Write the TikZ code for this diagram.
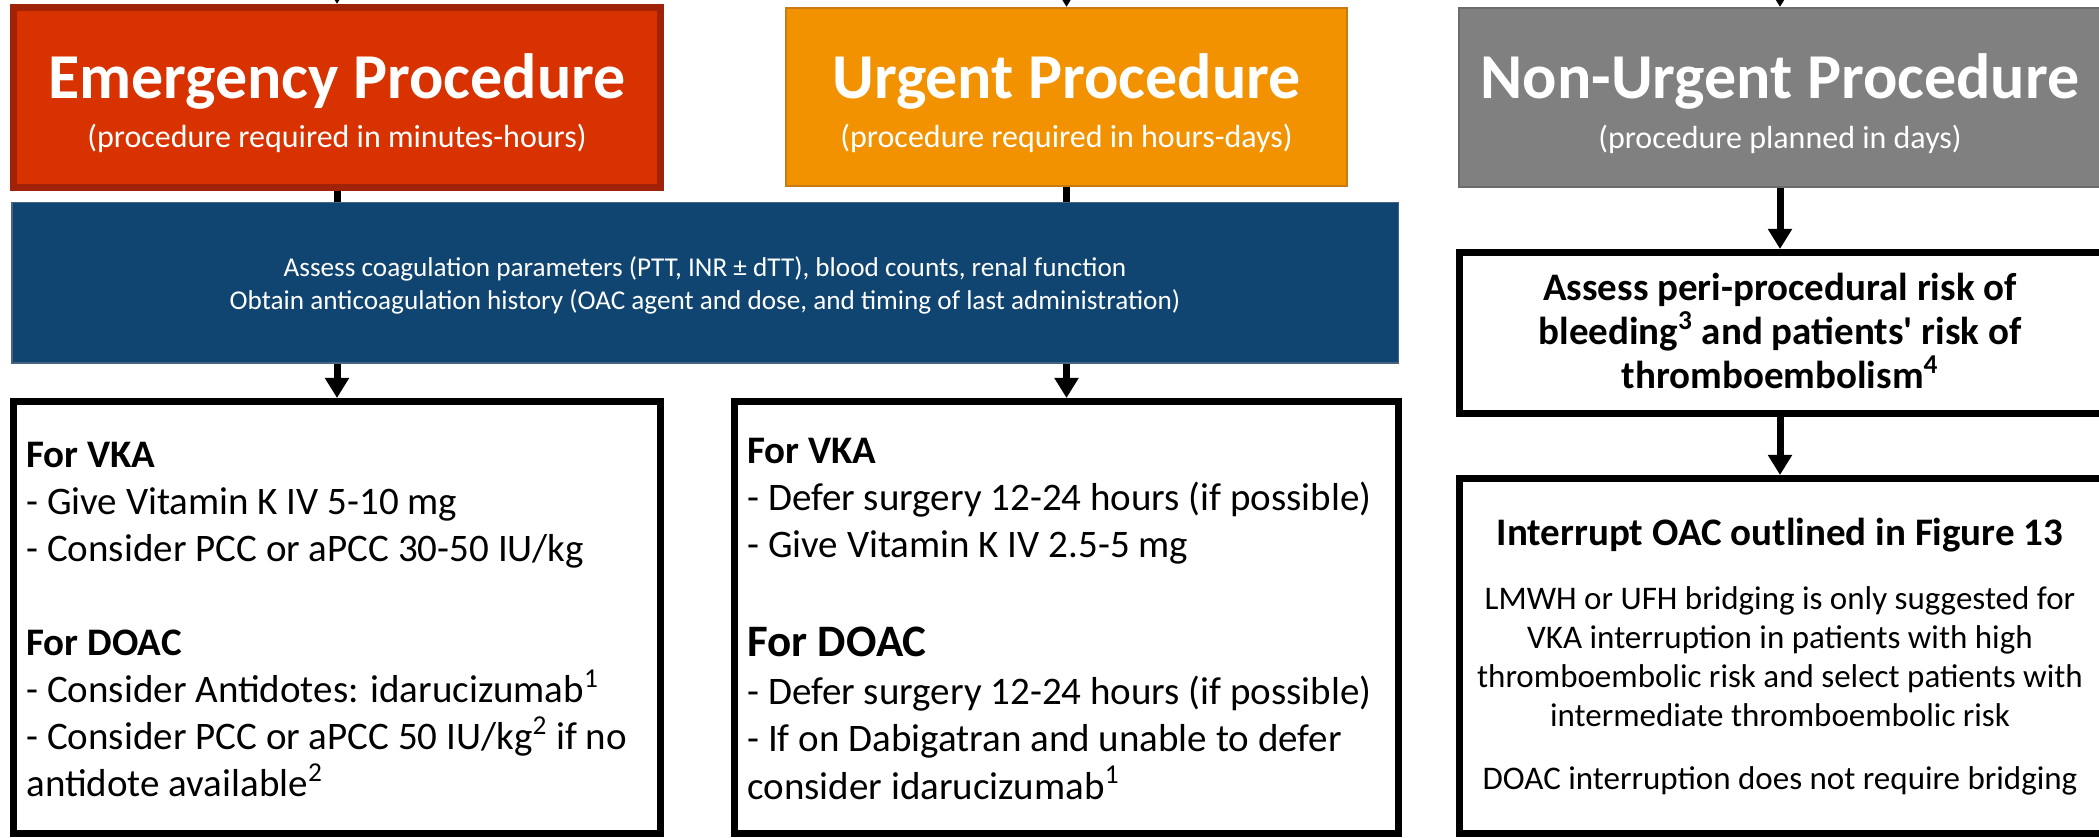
\documentclass[tikz,border=0pt]{standalone}
\usepackage{fontspec}
\setmainfont{Carlito}[Ligatures={ResetAll}]
\usetikzlibrary{arrows.meta}
% a typewriter-style apostrophe, taken straight from the font's glyph table
\newcommand\plainapos{\XeTeXglyph\XeTeXcharglyph"0027\relax}

\definecolor{emgfill}{RGB}{216,50,0}
\definecolor{emgline}{RGB}{160,34,8}
\definecolor{urgfill}{RGB}{243,146,0}
\definecolor{urgline}{RGB}{200,122,20}
\definecolor{nonfill}{RGB}{128,128,128}
\definecolor{nonline}{RGB}{108,108,108}
\definecolor{labfill}{RGB}{15,69,112}
\definecolor{labline}{RGB}{70,100,130}

\begin{document}
\begin{tikzpicture}[x=0.5pt,y=-0.5pt,
  panel/.style={rectangle, inner sep=0pt},
  outline/.style={panel, draw=black, fill=white, line width=3.5pt},
  link/.style={line width=3.5pt},
  flow/.style={line width=3.5pt, -{Triangle[length=10pt,width=11.5pt]}},
  heading/.style={anchor=base, inner sep=0pt, text=white, font=\fontsize{32}{38}\selectfont\bfseries},
  subheading/.style={anchor=base, inner sep=0pt, text=white, font=\fontsize{16}{19}\selectfont},
  labtext/.style={anchor=base, inner sep=0pt, text=white, font=\fontsize{13.6}{16}\selectfont},
  body/.style={anchor=base west, inner sep=0pt, font=\fontsize{19.5}{23.5}\selectfont},
  bodybold/.style={anchor=base west, inner sep=0pt, font=\fontsize{19.5}{23.5}\selectfont\bfseries},
  bodybig/.style={anchor=base west, inner sep=0pt, font=\fontsize{22.5}{27}\selectfont\bfseries},
  centrebold/.style={anchor=base, inner sep=0pt, font=\fontsize{19.5}{23.5}\selectfont\bfseries},
  centre/.style={anchor=base, inner sep=0pt, font=\fontsize{16.5}{20}\selectfont}
]
\useasboundingbox (0,0) rectangle (2099,838);
\clip (0,0) rectangle (2099,838);

% --- procedure category boxes
\node[panel, draw=emgline, fill=emgfill, line width=3.5pt,
      minimum width=323.5pt, minimum height=90pt] (emg) at (337,97.5) {};
\node[panel, draw=urgline, fill=urgfill, line width=1pt,
      minimum width=280.5pt, minimum height=89pt] (urg) at (1066.5,97) {};
\node[panel, draw=nonline, fill=nonfill, line width=1pt,
      minimum width=321pt, minimum height=89.5pt] (non) at (1780,97.5) {};

\node[heading] (emgT) at (337,99) {Emergency Procedure};
\node[subheading] (emgS) at (337,148) {(procedure required in minutes-hours)};
\node[heading] (urgT) at (1066.5,99) {Urgent Procedure};
\node[subheading] (urgS) at (1066.5,148) {(procedure required in hours-days)};
\node[heading] (nonT) at (1780,99) {Non-Urgent Procedure};
\node[subheading] (nonS) at (1780,149) {(procedure planned in days)};

% --- shared assessment box
\node[panel, draw=labline, fill=labfill, line width=0.75pt,
      minimum width=693.25pt, minimum height=80.25pt] (lab) at (705,283) {};
\node[labtext] (lab1) at (705,277) {Assess coagulation parameters (PTT, INR ± dTT), blood counts, renal function};
\node[labtext] (lab2) at (705,310) {Obtain anticoagulation history (OAC agent and dose, and timing of last administration)};

% --- management boxes
\node[outline, minimum width=323.5pt, minimum height=216pt] (emgM) at (337,617.5) {};
\node[outline, minimum width=332pt, minimum height=216pt] (urgM) at (1066.5,617.5) {};
\node[outline, minimum width=324.25pt, minimum height=80.5pt] (risk) at (1783.75,333) {};
\node[outline, minimum width=324.25pt, minimum height=177.5pt] (stop) at (1783.75,656) {};

% emergency management
\node[bodybold] (e1) at (26,468) {For VKA};
\node[body] (e2) at (26,515) {- Give Vitamin K IV 5-10 mg};
\node[body] (e3) at (26,562) {- Consider PCC or aPCC 30-50 IU/kg};
\node[bodybold] (e4) at (26,656) {For DOAC};
\node[body] (e5) at (26,703) {- Consider Antidotes: idarucizumab\textsuperscript{1}};
\node[body] (e6) at (26,750) {- Consider PCC or aPCC 50 IU/kg\textsuperscript{2} if no};
\node[body] (e7) at (26,797) {antidote available\textsuperscript{2}};

% urgent management
\node[bodybold] (u1) at (747,464) {For VKA};
\node[body] (u2) at (747,511) {- Defer surgery 12-24 hours (if possible)};
\node[body] (u3) at (747,558) {- Give Vitamin K IV 2.5-5 mg};
\node[bodybig] (u4) at (747,657) {For DOAC};
\node[body] (u5) at (747,705) {- Defer surgery 12-24 hours (if possible)};
\node[body] (u6) at (747,752) {- If on Dabigatran and unable to defer};
\node[body] (u7) at (747,799) {consider idarucizumab\textsuperscript{1}};

% non-urgent pathway
\node[centrebold] (r1) at (1780,301) {Assess peri-procedural risk of};
\node[centrebold] (r2) at (1780,345) {bleeding\textsuperscript{3} and patients\plainapos{} risk of};
\node[centrebold] (r3) at (1780,389) {thromboembolism\textsuperscript{4}};

\node[centrebold] (s1) at (1780,546) {Interrupt OAC outlined in Figure 13};
\node[centre] (s2) at (1780,610) {LMWH or UFH bridging is only suggested for};
\node[centre] (s3) at (1780,649) {VKA interruption in patients with high};
\node[centre] (s4) at (1780,688) {thromboembolic risk and select patients with};
\node[centre] (s5) at (1780,727) {intermediate thromboembolic risk};
\node[centre] (s6) at (1780,790) {DOAC interruption does not require bridging};

% --- connectors
\coordinate (inE) at (337,-60);
\coordinate (inU) at (1066.5,-60);
\coordinate (inN) at (1780,-60);
\draw[flow] (inE) -- (emg.north);
\draw[flow] (inU) -- (urg.north);
\draw[flow] (inN) -- (non.north);

\draw[link] (emg.south) -- (emg.south |- lab.north);
\draw[link] (urg.south) -- (urg.south |- lab.north);
\draw[flow] (lab.south -| emgM.north) -- (emgM.north);
\draw[flow] (lab.south -| urgM.north) -- (urgM.north);

\draw[flow] (non.south) -- (non.south |- risk.north);
\draw[flow] (non.south |- risk.south) -- (non.south |- stop.north);
\end{tikzpicture}
\end{document}
